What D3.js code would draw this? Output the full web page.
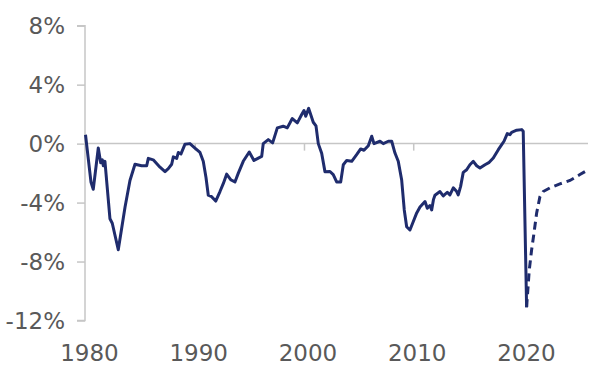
<!DOCTYPE html>
<html>
<head>
<meta charset="utf-8">
<script src="https://cdn.jsdelivr.net/npm/d3@7"></script>
<style>
  html, body { margin: 0; padding: 0; background: #ffffff; }
  svg { display: block; }
  text { font-family: "DejaVu Sans", sans-serif; fill: #595959; }
</style>
</head>
<body>
<svg id="chart" width="594" height="372"></svg>
<script>
// Actual series (year, % value)
const actualYears = [
  1980.0, 1980.5, 1980.71, 1981.17, 1981.39, 1981.54, 1981.63, 1981.78, 1982.24, 1982.45,
  1983.0, 1983.62, 1984.07, 1984.53, 1985.14, 1985.6, 1985.75, 1986.2, 1986.82, 1987.28,
  1987.58, 1987.89, 1988.04, 1988.35, 1988.5, 1988.74, 1989.1, 1989.56, 1990.02, 1990.48,
  1990.78, 1991.03, 1991.24, 1991.55, 1991.92, 1992.31, 1992.62, 1992.92, 1993.29, 1993.68,
  1993.99, 1994.44, 1994.99, 1995.42, 1995.82, 1996.13, 1996.27, 1996.73, 1997.13, 1997.56,
  1998.1, 1998.47, 1998.93, 1999.39, 1999.79, 2000.0, 2000.16, 2000.43, 2000.85, 2001.1,
  2001.31, 2001.62, 2001.92, 2002.38, 2002.68, 2002.99, 2003.36, 2003.6, 2003.91, 2004.37,
  2004.82, 2005.19, 2005.49, 2005.89, 2006.2, 2006.41, 2006.96, 2007.26, 2007.72, 2008.03,
  2008.33, 2008.63, 2008.94, 2009.18, 2009.4, 2009.7, 2010.0, 2010.32, 2010.62, 2011.08,
  2011.29, 2011.53, 2011.69, 2011.85, 2011.99, 2012.45, 2012.75, 2013.12, 2013.36, 2013.67,
  2013.98, 2014.12, 2014.34, 2014.58, 2014.89, 2015.19, 2015.5, 2015.81, 2016.11, 2016.57,
  2016.96, 2017.33, 2017.79, 2018.1, 2018.31, 2018.61, 2018.86, 2019.01, 2019.47, 2019.93,
  2020.07, 2020.38
];
const actualValues = [
  0.6, -2.6, -3.1, -0.3, -1.3, -1.1, -1.5, -1.2, -5.1, -5.4,
  -7.2, -4.3, -2.5, -1.4, -1.5, -1.5, -1.0, -1.1, -1.6, -1.9,
  -1.7, -1.4, -0.9, -1.0, -0.6, -0.7, -0.05, 0.0, -0.3, -0.6,
  -1.2, -2.3, -3.5, -3.6, -3.9, -3.25, -2.7, -2.07, -2.45, -2.6,
  -2.0, -1.2, -0.57, -1.14, -0.98, -0.87, 0.0, 0.27, 0.05, 1.07,
  1.18, 1.07, 1.7, 1.41, 1.98, 2.25, 1.86, 2.39, 1.45, 1.2,
  0.0, -0.66, -1.9, -1.89, -2.1, -2.6, -2.6, -1.43, -1.14, -1.2,
  -0.75, -0.36, -0.45, -0.14, 0.5, 0.0, 0.16, 0.0, 0.16, 0.16,
  -0.64, -1.2, -2.45, -4.5, -5.64, -5.86, -5.3, -4.7, -4.3, -3.93,
  -4.39, -4.2, -4.5, -3.8, -3.5, -3.25, -3.55, -3.3, -3.48, -3.0,
  -3.25, -3.48, -2.9, -1.95, -1.77, -1.43, -1.2, -1.5, -1.66, -1.43,
  -1.27, -0.98, -0.41, -0.07, 0.16, 0.68, 0.61, 0.77, 0.91, 0.95,
  0.84, -11.1
];
// Forecast series (dashed)
const forecastYears = [2020.38, 2020.62, 2020.84, 2021.05, 2021.3, 2021.6, 2021.9, 2022.52, 2023.43, 2024.35, 2025.26, 2026.02];
const forecastValues = [-11.1, -8.6, -7.2, -6.1, -4.7, -3.6, -3.25, -3.0, -2.73, -2.5, -2.1, -1.77];

const yTickValues = [8, 4, 0, -4, -8, -12];
const yTickLabels = ["8%", "4%", "0%", "-4%", "-8%", "-12%"];
const xTickValues = [1980, 1990, 2000, 2010, 2020];
const xTickLabels = ["1980", "1990", "2000", "2010", "2020"];

const svg = d3.select("#chart");
const x = d3.scaleLinear().domain([1980, 2026]).range([85.5, 588]);
const y = d3.scaleLinear().domain([-12, 8]).range([320.5, 25.7]);

const axisColor = "#c6c6c6";
const lineColor = "#1f2c6d";

// Y axis
const yAxis = d3.axisLeft(y).tickValues(yTickValues).tickSize(8).tickPadding(12)
  .tickFormat((d, i) => yTickLabels[i]);
const gy = svg.append("g").attr("transform", "translate(85,0)").call(yAxis);
gy.select(".domain").attr("stroke", axisColor).attr("stroke-width", 1.5).attr("d", `M-8,${y(8)}H0V${y(-12)}H-8`);
gy.selectAll(".tick line").attr("stroke", axisColor).attr("stroke-width", 1.5);
gy.selectAll(".tick text").attr("font-size", 23).attr("font-family", "DejaVu Sans").attr("fill", "#595959").attr("dy", "0.33em");

// X axis along zero line
const xAxis = d3.axisBottom(x).tickValues(xTickValues).tickSize(7).tickFormat("");
const gx = svg.append("g").attr("transform", `translate(0,${y(0)})`).call(xAxis);
gx.select(".domain").attr("stroke", axisColor).attr("stroke-width", 1.5).attr("d", `M85,0H588`);
gx.selectAll(".tick line").attr("stroke", axisColor).attr("stroke-width", 1.5);

// X labels at bottom
svg.append("g").selectAll("text").data(xTickValues).join("text")
  .attr("x", d => x(d) + 4)
  .attr("y", 361)
  .attr("text-anchor", "middle")
  .attr("font-size", 23)
  .text((d, i) => xTickLabels[i]);

const line = d3.line().x(d => x(d[0])).y(d => y(d[1]));

svg.append("path")
  .datum(forecastYears.map((yr, i) => [yr, forecastValues[i]]))
  .attr("d", line)
  .attr("fill", "none")
  .attr("stroke", lineColor)
  .attr("stroke-width", 3)
  .attr("stroke-dasharray", "8,5");

svg.append("path")
  .datum(actualYears.map((yr, i) => [yr, actualValues[i]]))
  .attr("d", line)
  .attr("fill", "none")
  .attr("stroke", lineColor)
  .attr("stroke-width", 3)
  .attr("stroke-linejoin", "round");
</script>
</body>
</html>
